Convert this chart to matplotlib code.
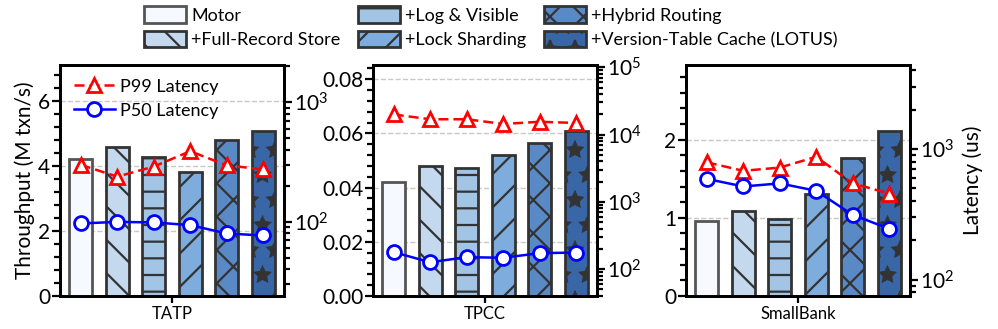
import numpy as np
import matplotlib
matplotlib.use("Agg")
import matplotlib.pyplot as plt
from matplotlib import hatch as mhatch
from matplotlib.patches import Patch
from matplotlib.ticker import MultipleLocator, AutoMinorLocator, LogLocator

plt.rcParams["font.family"] = ["Lato", "DejaVu Sans"]
plt.rcParams["mathtext.fontset"] = "custom"
plt.rcParams["mathtext.rm"] = "Lato"
plt.rcParams["hatch.linewidth"] = 1.6

# sparser, larger outline stars than the matplotlib default
_stars_init = mhatch.Stars.__init__


def _sparse_stars(self, hatch, density):
    _stars_init(self, hatch, 4)


mhatch.Stars.__init__ = _sparse_stars
mhatch.Stars.size = 0.36

# Data
workloads = ["TATP", "TPCC", "SmallBank"]
variants = ["Motor", "+Full-Record Store", "+Log & Visible",
            "+Lock Sharding", "+Hybrid Routing", "+Version-Table Cache (LOTUS)"]

throughput_tatp = [4.22, 4.58, 4.27, 3.81, 4.79, 5.08]
throughput_tpcc = [0.0419, 0.0479, 0.0474, 0.0521, 0.0565, 0.0608]
throughput_smallbank = [0.96, 1.09, 0.99, 1.30, 1.76, 2.11]

p99_tatp = [300, 239, 290, 390, 297, 275]
p99_tpcc = [19900, 16900, 16900, 14400, 15500, 14900]
p99_smallbank = [790, 680, 720, 870, 545, 456]

p50_tatp = [97, 100, 99, 94, 80, 77]
p50_tpcc = [179, 127, 151, 148, 173, 177]
p50_smallbank = [590, 516, 545, 478, 313, 245]

# Styling
colors = ["#f6f9ff", "#c5d9ee", "#a2c5e5", "#7eacdd", "#5a8ac6", "#3866a6"]
hatches = ["", "\\", "-", "/", "x", "*"]
edges = ["#555555", "#333333", "#333333", "#333333", "#333333", "#333333"]
hatch_lw = [1.6, 1.6, 1.6, 1.6, 1.6, 0.6]


def thin_hatch(patch, lw):
    if hasattr(patch, "set_hatch_linewidth"):
        patch.set_hatch_linewidth(lw)
    else:
        patch._hatch_linewidth = lw


panels = [
    (workloads[0], throughput_tatp, p99_tatp, p50_tatp, 7.1, 2, (24, 2050)),
    (workloads[1], throughput_tpcc, p99_tpcc, p50_tpcc, 0.0852, 0.02, (40, 1.08e5)),
    (workloads[2], throughput_smallbank, p99_smallbank, p50_smallbank, 2.955, 1, (75, 4380)),
]
lefts = [0.0601, 0.3737, 0.6874]

fig = plt.figure(figsize=(9.98, 3.29), dpi=100)

x = np.arange(6) - 2.5
bar_w = 0.63

for k, (name, tput, p99, p50, ytop, ystep, lat_lim) in enumerate(panels):
    ax = fig.add_axes([lefts[k], 0.1003, 0.2244, 0.702])
    for i in range(6):
        bars = ax.bar(x[i], tput[i], bar_w, color=colors[i], edgecolor=edges[i],
                      hatch=hatches[i], linewidth=2, zorder=3)
        thin_hatch(bars[0], hatch_lw[i])
    ax.set_xlim(-3.07, 3.07)
    ax.set_ylim(0, ytop)
    ax.set_xticks([0])
    ax.set_xticklabels([name], fontsize=12)
    ax.yaxis.set_major_locator(MultipleLocator(ystep))
    ax.yaxis.set_minor_locator(AutoMinorLocator(5))
    ax.grid(axis="y", linestyle="--", color="#c8c8c8", linewidth=1, zorder=0)
    ax.tick_params(axis="y", which="major", labelsize=15, length=6, width=1.6,
                   pad=1)
    ax.tick_params(axis="y", which="minor", length=4, width=1.6)
    ax.tick_params(axis="x", length=5, width=1.6, pad=2)
    for s in ax.spines.values():
        s.set_linewidth(2)
    if k == 2:
        ax.set_yticks([0, 1, 2])
        ax.yaxis.set_major_formatter(plt.FormatStrFormatter("%d"))
    if k == 1:
        ax.yaxis.set_major_formatter(plt.FormatStrFormatter("%.2f"))
    if k == 0:
        ax.set_ylabel("Throughput (M txn/s)", fontsize=15, labelpad=2)

    ax2 = ax.twinx()
    ax2.set_yscale("log")
    ax2.plot(x, p99, color="red", linestyle="--", linewidth=1.8, marker="^",
             markersize=10, markerfacecolor="white", markeredgecolor="red",
             markeredgewidth=2, dashes=(4, 2), label="P99 Latency", zorder=5)
    ax2.plot(x, p50, color="blue", linestyle="-", linewidth=1.8, marker="o",
             markersize=10, markerfacecolor="white", markeredgecolor="blue",
             markeredgewidth=2, label="P50 Latency", zorder=5)
    ax2.set_ylim(*lat_lim)
    ax2.yaxis.set_major_locator(LogLocator(base=10, numticks=10))
    ax2.yaxis.set_minor_locator(LogLocator(base=10, subs=np.arange(2, 10), numticks=10))
    ax2.tick_params(axis="y", which="major", labelsize=15, length=6, width=1.6,
                    pad=1)
    ax2.tick_params(axis="y", which="minor", length=4, width=1.6)
    for s in ax2.spines.values():
        s.set_linewidth(2)
    if k == 0:
        ax2.legend(loc="upper left", bbox_to_anchor=(0.0, 1.0), frameon=False,
                   fontsize=13, handlelength=2.3, handletextpad=0.3,
                   labelspacing=0.45, borderaxespad=0.35)
    if k == 2:
        ax2.set_ylabel("Latency (us)", fontsize=15, labelpad=6)

handles = []
for i in range(6):
    h = Patch(facecolor=colors[i], edgecolor=edges[i], hatch=hatches[i],
              linewidth=2, label=variants[i])
    thin_hatch(h, hatch_lw[i])
    handles.append(h)
fig.legend(handles=handles, loc="upper center", bbox_to_anchor=(0.492, 1.03),
           ncol=3, frameon=False, fontsize=13, handlelength=2.3,
           handleheight=1.0, handletextpad=0.3, columnspacing=1.0,
           labelspacing=0.4)

fig.savefig("out.png", dpi=100)
